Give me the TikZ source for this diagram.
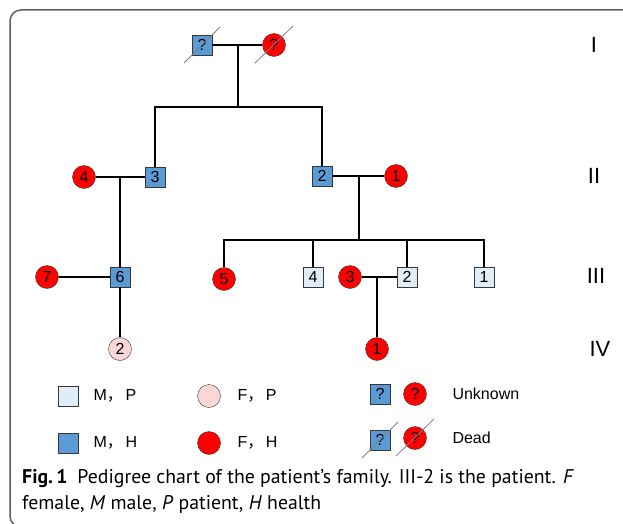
\documentclass[tikz,border=0pt]{standalone}
\usepackage{fontspec}
\setmainfont{Liberation Sans}
\newfontfamily\capfont{PT Sans}
\newfontfamily\cjk{Noto Sans CJK SC}
\definecolor{hblue}{RGB}{91,155,213}
\definecolor{pblue}{RGB}{224,236,248}
\definecolor{ppink}{RGB}{250,214,214}
\definecolor{hred}{RGB}{255,0,0}
\definecolor{bordgray}{RGB}{55,55,55}
\definecolor{framegray}{RGB}{95,95,95}
\begin{document}
\begin{tikzpicture}[x=1pt, y=-1pt, line/.style={line width=2.6pt, black}, dead/.style={line width=0.8pt, gray}]
        \tikzset{male/.style={rectangle, minimum size=20pt, inner sep=0pt, draw=bordgray, fill=hblue, font=\fontsize{16}{16}\selectfont}};
        \tikzset{female/.style={circle, minimum size=23pt, inner sep=0pt, draw=bordgray, fill=hred, font=\fontsize{16}{16}\selectfont}};
        \tikzset{gen/.style={font=\fontsize{22}{22}\selectfont}};
        \tikzset{legtext/.style={anchor=west, font=\fontsize{16}{16}\selectfont}};
        \useasboundingbox (0, 0) rectangle (623, 524);
        \draw[framegray, line width=1.5pt, rounded corners=11pt] (640, 10) -- (10, 10) -- (10, 527) -- (640, 527);

        \node[male] (i1) at (202, 45) {?};
        \node[female] (i2) at (274, 45) {?};

        \node[female] (ii4) at (84, 177) {4};
        \node[male] (ii3) at (155, 177) {3};
        \node[male] (ii2) at (322, 176) {2};
        \node[female] (ii1) at (396, 176) {1};

        \node[female] (iii7) at (47, 277) {7};
        \node[male] (iii6) at (120, 277) {6};
        \node[female] (iii5) at (224, 279) {5};
        \node[male, fill=pblue] (iii4) at (313, 277) {4};
        \node[female] (iii3) at (350, 277) {3};
        \node[male, fill=pblue] (iii2) at (407, 277) {2};
        \node[male, fill=pblue] (iii1) at (484, 277) {1};

        \node[female, fill=ppink] (iv2) at (120, 349) {2};
        \node[female] (iv1) at (377, 349) {1};

        \coordinate (ui) at (238, 45);
        \coordinate (si) at (238, 107);
        \coordinate (uii3) at (120, 177);
        \coordinate (uii2) at (359, 176);
        \coordinate (sii2) at (359, 240);
        \coordinate (uiii3) at (377, 277);

        \draw[line] (i1) -- (i2);
        \draw[line] (ui) -- (si);
        \draw[line] (ii3) |- (si) -| (ii2);
        \draw[line] (ii4) -- (ii3);
        \draw[line] (uii3) -- (iii6);
        \draw[line] (ii2) -- (ii1);
        \draw[line] (uii2) -- (sii2);
        \draw[line] (iii5) |- (sii2) -| (iii1);
        \draw[line] (iii4) -- (iii4 |- sii2);
        \draw[line] (iii2) -- (iii2 |- sii2);
        \draw[line] (iii7) -- (iii6);
        \draw[line] (iii3) -- (iii2);
        \draw[line] (uiii3) -- (iv1);
        \draw[line] (iii6) -- (iv2);

        \draw[dead] ([shift={(-18, 18)}]i1.center) -- ([shift={(18, -18)}]i1.center);
        \draw[dead] ([shift={(-19, 18)}]i2.center) -- ([shift={(19, -19)}]i2.center);

        \node[gen] (gi) at (594, 45) {I};
        \node[gen] (gii) at (594, 176) {II};
        \node[gen] (giii) at (596, 276) {III};
        \node[gen] (giv) at (600, 349) {IV};

        \node[male, fill=pblue] (l1) at (68, 396) {};
        \node[legtext] (t1) at (90, 396) {M{\cjk ，}\,P};
        \node[female, fill=ppink] (l2) at (209, 396) {};
        \node[legtext] (t2) at (234, 396) {F{\cjk ，}\,P};
        \node[male] (l3) at (380, 394) {?};
        \node[female] (l4) at (415, 394) {?};
        \node[legtext] (t3) at (449, 394) {Unknown};

        \node[male] (l5) at (68, 443) {};
        \node[legtext] (t4) at (90, 443) {M{\cjk ，}\,H};
        \node[female] (l6) at (209, 443) {};
        \node[legtext] (t5) at (234, 443) {F{\cjk ，}\,H};
        \node[male] (l7) at (380, 440) {?};
        \node[female] (l8) at (415, 438) {?};
        \node[legtext] (t6) at (449, 438) {Dead};
        \draw[dead] ([shift={(-18, 18)}]l7.center) -- ([shift={(18, -18)}]l7.center);
        \draw[dead] ([shift={(-19, 18)}]l8.center) -- ([shift={(19, -19)}]l8.center);

        \node[anchor=north west, align=left, inner sep=0pt, font=\capfont\fontsize{19.8}{26}\selectfont] (cap) at (22, 469)
            {\textbf{Fig.\,1}\enspace Pedigree chart of the patient’s family. III-2 is the patient. \textit{F}\\
             female, \textit{M} male, \textit{P} patient, \textit{H} health};
    \end{tikzpicture}
\end{document}
